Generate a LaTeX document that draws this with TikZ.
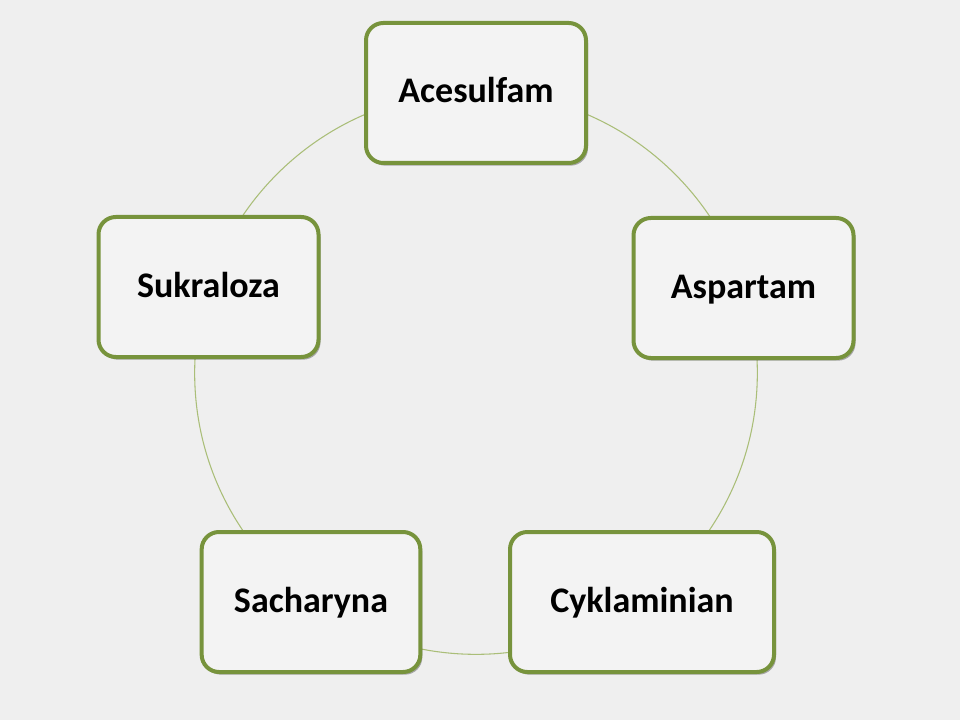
\documentclass[tikz,border=0pt]{standalone}
\usepackage{fontspec}
\setmainfont{Carlito}
\usetikzlibrary{shadows}
\definecolor{bg}{RGB}{239,239,239}
\definecolor{boxfill}{RGB}{243,243,243}
\definecolor{boxline}{RGB}{119,147,60}
\definecolor{ringline}{RGB}{170,190,120}
\begin{document}
\begin{tikzpicture}[x=0.75pt,y=-0.75pt,
  item/.style={draw=boxline, line width=3pt, fill=boxfill, rounded corners=13pt,
    minimum height=105pt, align=center, text height=18pt, text depth=3pt,
    font=\fontsize{27}{32}\selectfont\bfseries,
    drop shadow={shadow xshift=1.5pt, shadow yshift=-2pt, fill=black, opacity=0.3}},
  ring/.style={draw=ringline, line width=0.8pt}]
\fill[bg] (0,0) rectangle (960,720);
\useasboundingbox (0,0) rectangle (960,720);
\coordinate (c) at (476,373);
\draw[ring] (c) circle[radius=211pt];
\node[item, minimum width=165pt] (ace) at (476,93) {Acesulfam};
\node[item, minimum width=165pt] (asp) at (743.5,288) {Aspartam};
\node[item, minimum width=198pt] (cyk) at (642,602) {Cyklaminian};
\node[item, minimum width=164pt] (sac) at (311,602) {Sacharyna};
\node[item, minimum width=165pt] (suk) at (208.5,287) {Sukraloza};
\end{tikzpicture}
\end{document}
